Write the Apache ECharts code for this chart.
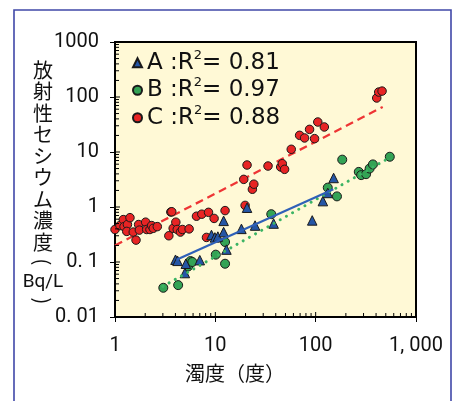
<!DOCTYPE html>
<html><head><meta charset="utf-8">
<script src="https://cdn.jsdelivr.net/npm/echarts@6/dist/echarts.min.js"></script>
<style>html,body{margin:0;padding:0;background:#fff}#c{width:459px;height:401px}</style>
</head><body><div id="c"></div>
<script>
// ---- data ----
const seriesNames = ['A', 'B', 'C'];
const r2Values = ['0.81', '0.97', '0.88'];

const aX = [4.01, 4.2, 4.97, 5.08, 7.0, 9.15, 9.9, 10.6, 12.1, 12.1, 12.9, 18.2, 20.7, 24.9, 38.1, 92.4, 118, 132, 151];
const aY = [0.110, 0.105, 0.063, 0.093, 0.108, 0.31, 0.28, 0.29, 0.56, 0.35, 0.168, 0.40, 0.97, 0.46, 0.50, 0.57, 1.28, 1.80, 3.37];

const bX = [3.03, 4.26, 5.36, 5.65, 5.9, 10.1, 12.5, 12.5, 36.1, 132, 163, 184, 269, 284, 318, 345, 372, 548];
const bY = [0.034, 0.038, 0.083, 0.104, 0.10, 0.136, 0.093, 0.231, 0.74, 2.25, 1.56, 7.26, 4.35, 3.8, 3.95, 5.0, 5.95, 8.2];

const cX = [1.0, 1.12, 1.21, 1.23, 1.33, 1.31, 1.41, 1.52, 1.62, 1.72, 1.75, 2.02, 2.07, 2.23, 2.32, 2.41, 2.64, 3.44, 3.60, 3.68, 3.80, 4.04, 4.17, 4.49, 4.70, 5.48, 6.49, 7.33, 8.55, 9.72, 8.16, 12.5, 19.2, 19.8, 20.7, 23.4, 24.2, 33.5, 44.8, 46.5, 49.0, 57.1, 69.2, 77.5, 86.9, 97.5, 105, 122, 406, 425, 459];
const cY = [0.39, 0.46, 0.59, 0.44, 0.48, 0.36, 0.64, 0.35, 0.25, 0.48, 0.38, 0.53, 0.39, 0.39, 0.46, 0.41, 0.44, 0.30, 0.81, 0.82, 0.41, 0.53, 0.39, 0.35, 0.39, 0.40, 0.68, 0.74, 0.80, 0.62, 0.28, 0.86, 3.18, 1.07, 5.8, 2.1, 2.6, 5.56, 5.34, 6.13, 4.84, 11.2, 20.1, 18.0, 25.8, 17.5, 35.1, 28.5, 95.9, 123, 128];

// regression line end points
const trendAX = [4.1, 150];  const trendAY = [0.11, 2.1];
const trendBX = [3.0, 560];  const trendBY = [0.036, 8.1];
const trendCX = [1.0, 466];  const trendCY = [0.20, 66];

const xTickValues = [1, 10, 100, 1000];
const xTickLabels = ['1', '10', '100', '1, 000'];
const yTickValues = [0.01, 0.1, 1, 10, 100, 1000];
const yTickLabels = ['0. 01', '0. 1', '1', '10', '100', '1000'];
const minorMultipliers = [2, 3, 4, 5, 6, 7, 8, 9];

const yTitleChars = ['放', '射', '性', 'セ', 'シ', 'ウ', 'ム', '濃', '度'];
const yTitleUnit = 'Bq/L';
const xTitle = '濁度（度）';

// ---- helpers ----
const zip = (xs, ys) => xs.map((x, i) => [x, ys[i]]);
function labelFor(values, labels, v) {
  let best = 0, bd = Infinity;
  values.forEach((t, i) => { const d = Math.abs(Math.log10(t) - Math.log10(v)); if (d < bd) { bd = d; best = i; } });
  return bd < 0.01 ? labels[best] : '';
}
function tickData(majors) {
  const out = [];
  majors.forEach((m, i) => {
    out.push([m, 5]);
    if (i < majors.length - 1) minorMultipliers.forEach(k => out.push([m * k, 4]));
  });
  return out;
}
const CJK = '"Noto Sans CJK JP", sans-serif';
const NUM = '"Liberation Sans Narrow", Roboto, sans-serif';

const chart = echarts.init(document.getElementById('c'), null, { renderer: 'canvas' });
const xMin = xTickValues[0], yMin = yTickValues[0];

const option = {
  animation: false,
  backgroundColor: '#fff',
  grid: { left: 115, top: 42, width: 301, height: 275, show: true, backgroundColor: '#fff9d6', borderColor: '#000', borderWidth: 2 },
  xAxis: {
    type: 'log', logBase: 10, min: 1, max: 1000,
    axisLine: { lineStyle: { color: '#000', width: 2 } },
    axisTick: { show: true, length: 5, lineStyle: { color: '#000', width: 1 } },
    splitLine: { show: false },
    axisLabel: { margin: 19, color: '#111', fontSize: 20, fontFamily: NUM, formatter: v => labelFor(xTickValues, xTickLabels, v) }
  },
  yAxis: {
    type: 'log', logBase: 10, min: 0.01, max: 1000,
    axisLine: { lineStyle: { color: '#000', width: 2 } },
    axisTick: { show: true, length: 5, lineStyle: { color: '#000', width: 1 } },
    splitLine: { show: false },
    axisLabel: { margin: 16, color: '#111', fontSize: 20, fontFamily: NUM, formatter: v => labelFor(yTickValues, yTickLabels, v) }
  },
  legend: {
    data: seriesNames, orient: 'vertical', left: 127, top: 44, itemWidth: 9, itemHeight: 9, itemGap: 0,
    formatter: name => name + ' :R{s|2}= ' + r2Values[seriesNames.indexOf(name)],
    textStyle: { fontFamily: '"DejaVu Sans", sans-serif', fontSize: 23, lineHeight: 27.5, color: '#111',
      rich: { s: { fontFamily: '"DejaVu Sans", sans-serif', fontSize: 13, lineHeight: 13, verticalAlign: 'top', color: '#111' } } }
  },
  series: [
    { type: 'line', name: 'C-trend', data: zip(trendCX, trendCY), symbol: 'none', z: 2,
      lineStyle: { color: '#ee3535', width: 2.3, type: [8, 5] } },
    { type: 'scatter', name: 'C', data: zip(cX, cY), symbol: 'circle', symbolSize: 8.5, z: 3,
      itemStyle: { color: '#e82424', borderColor: '#1a1a1a', borderWidth: 1, opacity: 1 } },
    { type: 'scatter', name: 'B', data: zip(bX, bY), symbol: 'circle', symbolSize: 9, z: 3,
      itemStyle: { color: '#33a355', borderColor: '#1a1a1a', borderWidth: 1, opacity: 1 } },
    { type: 'scatter', name: 'A', data: zip(aX, aY), symbol: 'triangle', symbolSize: 9.5, z: 3,
      itemStyle: { color: '#2556a6', borderColor: '#1a1a1a', borderWidth: 1, opacity: 1 } },
    { type: 'line', name: 'B-trend', data: zip(trendBX, trendBY), symbol: 'none', z: 4,
      lineStyle: { color: '#3cb464', width: 3, type: [0.1, 7], cap: 'round' } },
    { type: 'line', name: 'A-trend', data: zip(trendAX, trendAY), symbol: 'none', z: 4,
      lineStyle: { color: '#2f60b8', width: 2.2 } },
    { type: 'custom', name: 'xticks', silent: true, z: 6, data: tickData(xTickValues),
      renderItem: (params, api) => { const p = api.coord([api.value(0), yMin]); const len = api.value(1);
        return { type: 'line', shape: { x1: p[0], y1: p[1], x2: p[0], y2: p[1] - len }, style: { stroke: '#000', lineWidth: 1 } }; } },
    { type: 'custom', name: 'yticks', silent: true, z: 6, data: tickData(yTickValues).map(d => [xMin, d[0], d[1]]),
      renderItem: (params, api) => { const p = api.coord([xMin, api.value(1)]); const len = api.value(2);
        return { type: 'line', shape: { x1: p[0], y1: p[1], x2: p[0] + len, y2: p[1] }, style: { stroke: '#000', lineWidth: 1 } }; } }
  ],
  graphic: [
    { type: 'rect', z: -1, silent: true, shape: { x: 14, y: 10, width: 437, height: 420 }, style: { fill: 'none', stroke: '#4048a8', lineWidth: 1.6 } },
    { type: 'text', x: 43, y: 59.5, style: { text: yTitleChars.join('\n'), fontFamily: CJK, fontSize: 20, lineHeight: 21.5, align: 'center', verticalAlign: 'top', fill: '#111' } },
    { type: 'text', x: 43, y: 262, rotation: -Math.PI / 2, style: { text: '(', fontFamily: CJK, fontSize: 20, align: 'center', verticalAlign: 'middle', fill: '#111' } },
    { type: 'text', x: 43, y: 282, style: { text: yTitleUnit, fontFamily: NUM, fontSize: 19, align: 'center', verticalAlign: 'middle', fill: '#111' } },
    { type: 'text', x: 43, y: 301, rotation: -Math.PI / 2, style: { text: ')', fontFamily: CJK, fontSize: 20, align: 'center', verticalAlign: 'middle', fill: '#111' } },
    { type: 'text', x: 235, y: 373, style: { text: xTitle, fontFamily: CJK, fontSize: 20, align: 'center', verticalAlign: 'middle', fill: '#111' } }
  ]
};
chart.setOption(option);
</script></body></html>
